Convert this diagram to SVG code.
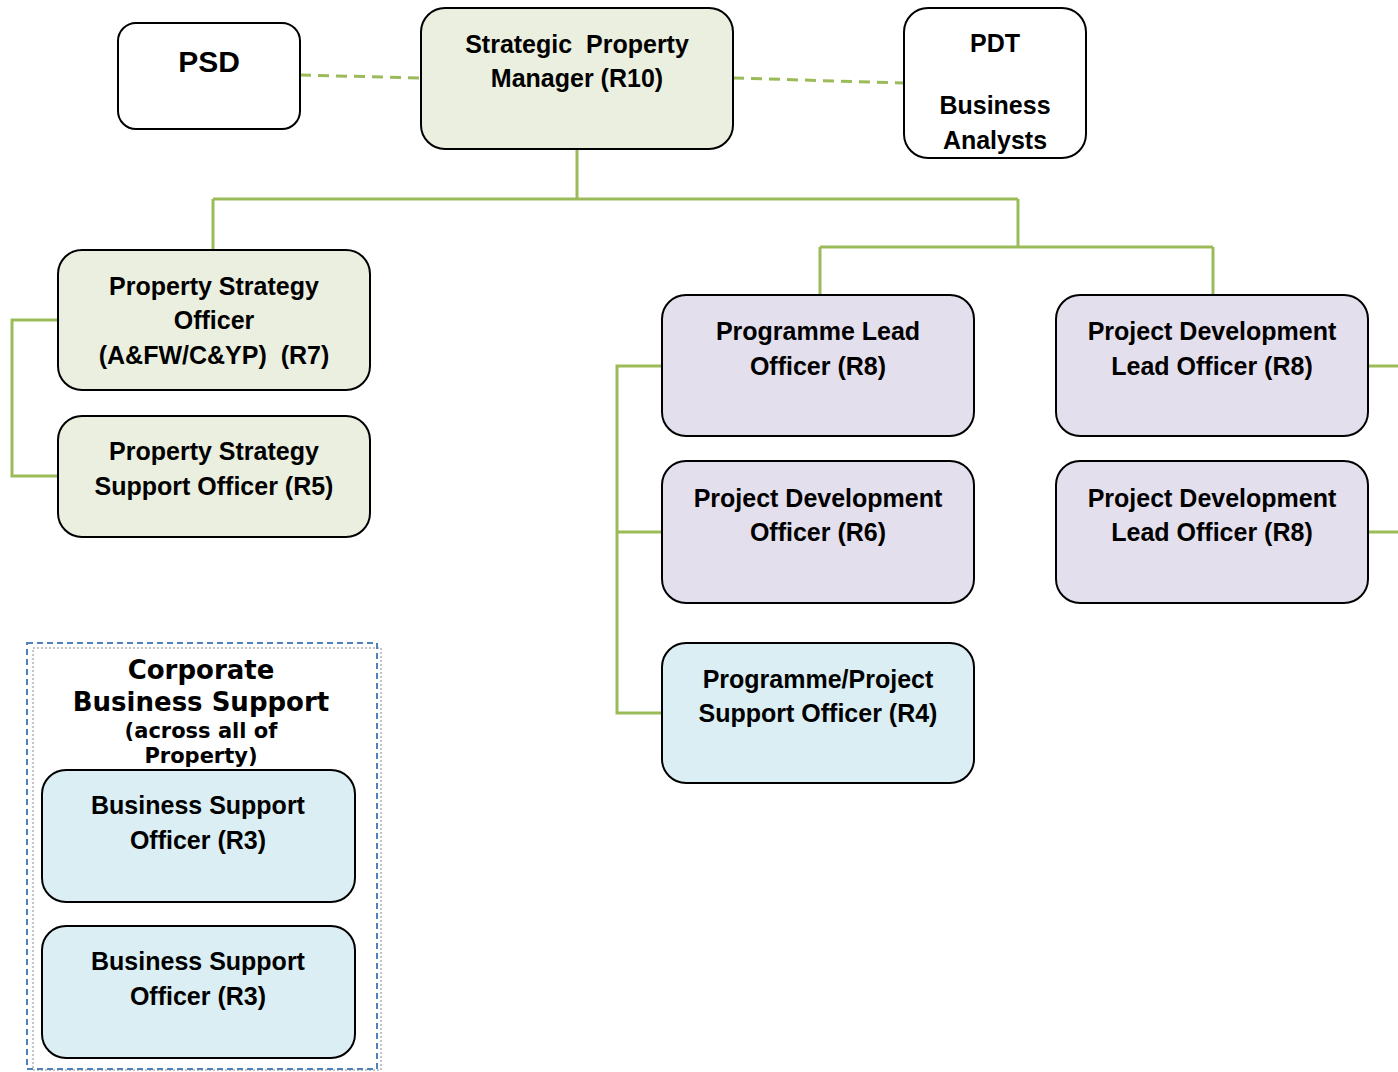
<svg xmlns="http://www.w3.org/2000/svg" width="1398" height="1072" viewBox="0 0 1398 1072">
  <style>
    .box { stroke: #000; stroke-width: 2; }
    .white { fill: #ffffff; }
    .green { fill: #ebefdf; }
    .lilac { fill: #e4dfec; }
    .blue { fill: #daeef3; }
    .lbl { font-family: "Liberation Sans", Arial, sans-serif; font-weight: bold; font-size: 25px; fill: #000; text-anchor: middle; }
    .big { font-size: 30px; }
    .hdr { font-family: "DejaVu Sans", Verdana, sans-serif; font-weight: bold; fill: #000; text-anchor: middle; }
    .link { fill: none; stroke: #9bbb59; stroke-width: 3; }
    .dash { stroke-dasharray: 11 7; }
  </style>
  <rect width="1398" height="1072" fill="#ffffff"/>

  <!-- connectors -->
  <g id="connectors">
    <path class="link dash" d="M300 75 L421 78"/>
    <path class="link dash" d="M733 78 L904 83"/>
    <path class="link" d="M577 149 V199 M213 199 H1018 M213 199 V250 M1018 199 V247 M820 247 H1213 M820 247 V295 M1213 247 V295"/>
    <path class="link" d="M58 320 H12 V476 H58"/>
    <path class="link" d="M662 366 H617 V713 H662 M617 532 H662"/>
    <path class="link" d="M1368 366 H1398 M1368 532 H1398"/>
  </g>

  <g id="psd">
    <rect class="box white" x="118" y="23" width="182" height="106" rx="18"/>
    <text class="lbl big" x="209" y="72">PSD</text>
  </g>

  <g id="strategic-property-manager">
    <rect class="box green" x="421" y="8" width="312" height="141" rx="24"/>
    <text class="lbl" x="577" y="53" xml:space="preserve">Strategic  Property</text>
    <text class="lbl" x="577" y="87">Manager (R10)</text>
  </g>

  <g id="pdt">
    <rect class="box white" x="904" y="8" width="182" height="150" rx="24"/>
    <text class="lbl" x="995" y="52">PDT</text>
    <text class="lbl" x="995" y="114">Business</text>
    <text class="lbl" x="995" y="149">Analysts</text>
  </g>

  <g id="property-strategy-officer">
    <rect class="box green" x="58" y="250" width="312" height="140" rx="24"/>
    <text class="lbl" x="214" y="295">Property Strategy</text>
    <text class="lbl" x="214" y="329">Officer</text>
    <text class="lbl" x="214" y="364" xml:space="preserve">(A&amp;FW/C&amp;YP)  (R7)</text>
  </g>

  <g id="property-strategy-support-officer">
    <rect class="box green" x="58" y="416" width="312" height="121" rx="24"/>
    <text class="lbl" x="214" y="460">Property Strategy</text>
    <text class="lbl" x="214" y="495">Support Officer (R5)</text>
  </g>

  <g id="programme-lead-officer">
    <rect class="box lilac" x="662" y="295" width="312" height="141" rx="24"/>
    <text class="lbl" x="818" y="340">Programme Lead</text>
    <text class="lbl" x="818" y="375">Officer (R8)</text>
  </g>

  <g id="project-development-officer">
    <rect class="box lilac" x="662" y="461" width="312" height="142" rx="24"/>
    <text class="lbl" x="818" y="507">Project Development</text>
    <text class="lbl" x="818" y="541">Officer (R6)</text>
  </g>

  <g id="programme-project-support-officer">
    <rect class="box blue" x="662" y="643" width="312" height="140" rx="24"/>
    <text class="lbl" x="818" y="688">Programme/Project</text>
    <text class="lbl" x="818" y="722">Support Officer (R4)</text>
  </g>

  <g id="project-development-lead-officer-1">
    <rect class="box lilac" x="1056" y="295" width="312" height="141" rx="24"/>
    <text class="lbl" x="1212" y="340">Project Development</text>
    <text class="lbl" x="1212" y="375">Lead Officer (R8)</text>
  </g>

  <g id="project-development-lead-officer-2">
    <rect class="box lilac" x="1056" y="461" width="312" height="142" rx="24"/>
    <text class="lbl" x="1212" y="507">Project Development</text>
    <text class="lbl" x="1212" y="541">Lead Officer (R8)</text>
  </g>

  <g id="corporate-business-support">
    <rect x="33" y="648" width="348" height="422" fill="none" stroke="#8a8a8a" stroke-width="1" stroke-dasharray="2 2"/>
    <rect x="27" y="643" width="350" height="426" fill="none" stroke="#4f81bd" stroke-width="2" stroke-dasharray="6 4"/>
    <text class="hdr" x="201" y="679" font-size="26">Corporate</text>
    <text class="hdr" x="201" y="711" font-size="26">Business Support</text>
    <text class="hdr" x="201" y="738" font-size="21">(across all of</text>
    <text class="hdr" x="201" y="763" font-size="21">Property)</text>
  </g>

  <g id="business-support-officer-1">
    <rect class="box blue" x="42" y="770" width="313" height="132" rx="24"/>
    <text class="lbl" x="198" y="814">Business Support</text>
    <text class="lbl" x="198" y="849">Officer (R3)</text>
  </g>

  <g id="business-support-officer-2">
    <rect class="box blue" x="42" y="926" width="313" height="132" rx="24"/>
    <text class="lbl" x="198" y="970">Business Support</text>
    <text class="lbl" x="198" y="1005">Officer (R3)</text>
  </g>
</svg>
